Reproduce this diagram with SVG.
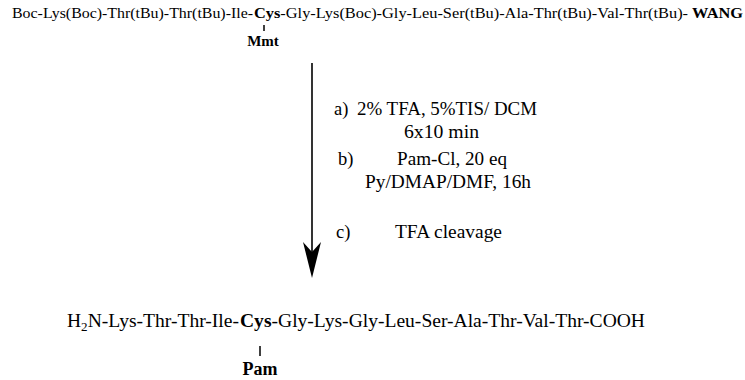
<svg xmlns="http://www.w3.org/2000/svg" width="745" height="380" viewBox="0 0 745 380" font-family="'Liberation Serif', 'Times New Roman', Times, serif">
<style>
text{font-family:'Liberation Serif','Times New Roman',Times,serif;fill:#000}
.top{font-size:15px}
.lab{font-size:18.5px}
.bot{font-size:18px}
.b{font-weight:bold}
.mid{text-anchor:middle}
.tick{stroke:#000;stroke-width:1.5}
</style>
<rect width="745" height="380" fill="#fff"/>
<g id="start">
<text class="top" x="12" y="18" textLength="241" lengthAdjust="spacingAndGlyphs">Boc-Lys(Boc)-Thr(tBu)-Thr(tBu)-Ile-</text>
<text class="top" x="254" y="18" textLength="489" lengthAdjust="spacingAndGlyphs"><tspan class="b">Cys</tspan>-Gly-Lys(Boc)-Gly-Leu-Ser(tBu)-Ala-Thr(tBu)-Val-Thr(tBu)- <tspan class="b">WANG</tspan></text>
<line class="tick" x1="264" y1="25" x2="264" y2="31"/>
<text class="top b mid" x="263" y="46">Mmt</text>
</g>
<g id="connectors">
<line x1="312" y1="63" x2="312" y2="268" stroke="#000" stroke-width="1.6"/>
<path d="M303,242 L312,252 L321,242 L312,278 Z" fill="#000"/>
</g>
<g id="conditions">
<text class="lab" x="334" y="115">a)</text>
<text class="lab" x="357" y="115" textLength="180" lengthAdjust="spacingAndGlyphs">2% TFA, 5%TIS/ DCM</text>
<text class="lab" x="404" y="138" textLength="75" lengthAdjust="spacingAndGlyphs">6x10 min</text>
<text class="lab" x="338" y="165">b)</text>
<text class="lab" x="397" y="165" textLength="110" lengthAdjust="spacingAndGlyphs">Pam-Cl, 20 eq</text>
<text class="lab" x="365" y="188" textLength="166" lengthAdjust="spacingAndGlyphs">Py/DMAP/DMF, 16h</text>
<text class="lab" x="336" y="238">c)</text>
<text class="lab" x="395" y="238" textLength="107" lengthAdjust="spacingAndGlyphs">TFA cleavage</text>
</g>
<g id="product">
<text class="bot" x="67" y="327" textLength="172" lengthAdjust="spacingAndGlyphs">H<tspan font-size="12" dy="4">2</tspan><tspan dy="-4">N-Lys-Thr-Thr-Ile-</tspan></text>
<text class="bot" x="240" y="327" textLength="405" lengthAdjust="spacingAndGlyphs"><tspan class="b">Cys</tspan>-Gly-Lys-Gly-Leu-Ser-Ala-Thr-Val-Thr-COOH</text>
<line class="tick" x1="260" y1="346" x2="260" y2="356"/>
<text class="bot b mid" x="260" y="375">Pam</text>
</g>
</svg>
